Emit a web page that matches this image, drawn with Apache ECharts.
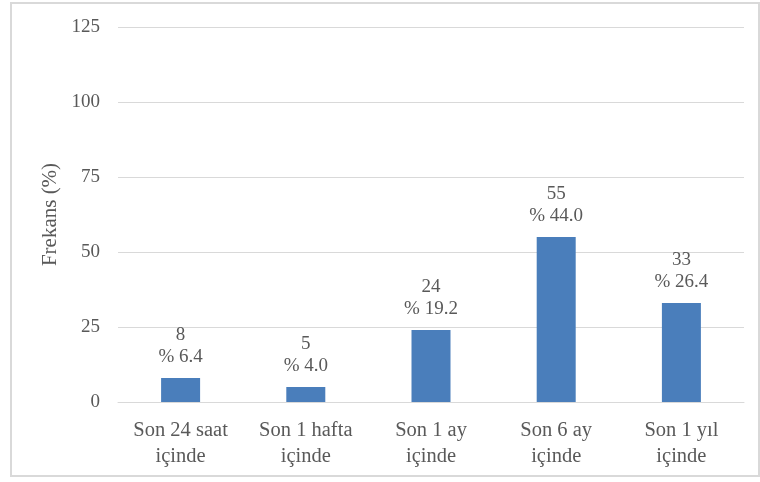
<!DOCTYPE html>
<html>
<head>
<meta charset="utf-8">
<script src="https://cdn.jsdelivr.net/npm/echarts@6/dist/echarts.min.js"></script>
<style>
  html, body { margin: 0; padding: 0; background: #fff; }
  #frame { position: absolute; left: 10px; top: 2px; width: 750px; height: 475px; box-sizing: border-box; border: 2px solid #d9d9d9; }
  #chart { position: absolute; left: 0; top: 0; width: 760px; height: 482px; }
</style>
</head>
<body>
<div id="frame"></div>
<div id="chart"></div>
<script>
// Time periods, counts and percentages
const categories = ['Son 24 saat\niçinde', 'Son 1 hafta\niçinde', 'Son 1 ay\niçinde', 'Son 6 ay\niçinde', 'Son 1 yıl\niçinde'];
const counts = [8, 5, 24, 55, 33];
const percents = ['6.4', '4.0', '19.2', '44.0', '26.4'];
const yTicks = [0, 25, 50, 75, 100, 125];

const font = '"Liberation Serif", "Times New Roman", serif';
const chart = echarts.init(document.getElementById('chart'), null, { renderer: 'canvas' });

chart.setOption({
  animation: false,
  grid: { left: 118, right: 16, top: 27, bottom: 80, containLabel: false },
  xAxis: {
    type: 'category',
    data: categories,
    axisLine: { lineStyle: { color: '#d9d9d9', width: 1 } },
    axisTick: { show: false },
    axisLabel: { interval: 0, color: '#595959', fontFamily: font, fontSize: 20.5, lineHeight: 26, margin: 16 }
  },
  yAxis: {
    type: 'value',
    min: yTicks[0],
    max: yTicks[yTicks.length - 1],
    interval: 25,
    name: 'Frekans (%)',
    nameLocation: 'middle',
    nameGap: 55,
    nameRotate: 90,
    nameTextStyle: { color: '#595959', fontFamily: font, fontSize: 21 },
    axisLine: { show: false },
    axisTick: { show: false },
    axisLabel: { color: '#595959', fontFamily: font, fontSize: 19, margin: 18 },
    splitLine: { lineStyle: { color: '#d9d9d9', width: 1 } }
  },
  series: [{
    type: 'bar',
    data: counts,
    barWidth: 39,
    itemStyle: { color: '#4a7ebb' },
    label: {
      show: true,
      position: 'top',
      distance: 10,
      color: '#595959',
      fontFamily: font,
      fontSize: 19,
      lineHeight: 22,
      formatter: p => counts[p.dataIndex] + '\n% ' + percents[p.dataIndex]
    }
  }]
});
</script>
</body>
</html>
